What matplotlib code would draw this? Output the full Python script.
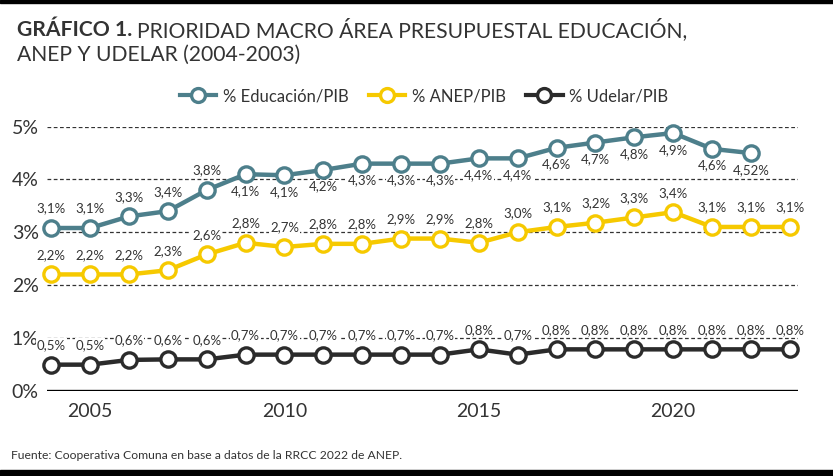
import matplotlib
matplotlib.use('Agg')
import matplotlib.pyplot as plt
from matplotlib.lines import Line2D

plt.rcParams['font.family'] = ['Lato', 'DejaVu Sans']

years = list(range(2004, 2024))
educ = [3.08, 3.08, 3.3, 3.4, 3.8, 4.1, 4.08, 4.18, 4.3, 4.3, 4.3, 4.4, 4.4, 4.6, 4.7, 4.8, 4.88, 4.58, 4.5]
educ_labels = ['3,1%', '3,1%', '3,3%', '3,4%', '3,8%', '4,1%', '4,1%', '4,2%', '4,3%', '4,3%', '4,3%',
               '4,4%', '4,4%', '4,6%', '4,7%', '4,8%', '4,9%', '4,6%', '4,52%']
anep = [2.2, 2.2, 2.2, 2.28, 2.58, 2.8, 2.72, 2.78, 2.78, 2.88, 2.88, 2.8, 3.0, 3.1, 3.18, 3.28, 3.38, 3.1, 3.1, 3.1]
anep_labels = ['2,2%', '2,2%', '2,2%', '2,3%', '2,6%', '2,8%', '2,7%', '2,8%', '2,8%', '2,9%', '2,9%',
               '2,8%', '3,0%', '3,1%', '3,2%', '3,3%', '3,4%', '3,1%', '3,1%', '3,1%']
udelar = [0.49, 0.49, 0.58, 0.59, 0.59, 0.68, 0.68, 0.68, 0.68, 0.68, 0.68, 0.78, 0.68, 0.78, 0.78,
          0.78, 0.78, 0.78, 0.78, 0.78]
udelar_labels = ['0,5%', '0,5%', '0,6%', '0,6%', '0,6%', '0,7%', '0,7%', '0,7%', '0,7%', '0,7%', '0,7%',
                 '0,8%', '0,7%', '0,8%', '0,8%', '0,8%', '0,8%', '0,8%', '0,8%', '0,8%']
yticks = [0, 1, 2, 3, 4, 5]
xticks = [2005, 2010, 2015, 2020]

TEAL = '#4d7f8b'
YELLOW = '#f6c900'
BLACK = '#2b2b2b'
TXT = '#333333'

fig = plt.figure(figsize=(8.33, 4.76), dpi=100)
ax = fig.add_axes([0.0564, 0.1796, 0.9016, 0.5542])

for v in yticks[1:]:
    ax.axhline(v, color='#333333', lw=0.9, dashes=(3, 2), zorder=1)
ax.axhline(0, color='black', lw=2.4, zorder=2)


def draw(vals, labels, color, below_from=None):
    xs = years[:len(vals)]
    ax.plot(xs, vals, color=color, lw=3.2, marker='o', ms=11, mfc='white',
            mec=color, mew=2.4, zorder=4, clip_on=False)
    for i, (x, v, t) in enumerate(zip(xs, vals, labels)):
        below = below_from is not None and i >= below_from
        off = -12 if below else 14
        ax.annotate(t, (x, v), xytext=(0, off), textcoords='offset points',
                    ha='center', va='center', fontsize=9.5, color=TXT, zorder=3,
                    bbox=dict(boxstyle='square,pad=0.06', fc='white', ec='none'))


draw(educ, educ_labels, TEAL, below_from=5)
draw(anep, anep_labels, YELLOW)
draw(udelar, udelar_labels, BLACK)

ax.set_xlim(2003.89, 2023.21)
ax.set_ylim(0, 5)
ax.set_yticks(yticks)
ax.set_yticklabels([f'{v}%' for v in yticks])
ax.set_xticks(xticks)
ax.tick_params(length=0, labelsize=14, colors=TXT, pad=6)
ax.tick_params(axis='x', pad=9)
for s in ax.spines.values():
    s.set_visible(False)

# title: bold part then regular part right after it
r = fig.canvas.get_renderer()
t1 = fig.text(0.021, 0.937, 'GRÁFICO 1.', fontsize=15.2, fontweight='bold', color=TXT, va='center')
w = t1.get_window_extent(r).width / fig.bbox.width
fig.text(0.021 + w + 0.005, 0.937, 'PRIORIDAD MACRO ÁREA PRESUPUESTAL EDUCACIÓN,', fontsize=15.2,
         color=TXT, va='center')
fig.text(0.021, 0.884, 'ANEP Y UDELAR (2004-2003)', fontsize=15.2, color=TXT, va='center')

handles = [Line2D([], [], color=c, lw=3, marker='o', ms=10, mfc='white', mec=c, mew=2.4)
           for c in (TEAL, YELLOW, BLACK)]
fig.legend(handles, ['% Educación/PIB', '% ANEP/PIB', '% Udelar/PIB'], loc='center',
           bbox_to_anchor=(0.509, 0.798), ncol=3, frameon=False, fontsize=12,
           handlelength=2.2, columnspacing=1.2, handletextpad=0.4, labelcolor=TXT)

fig.text(0.013, 0.043, 'Fuente: Cooperativa Comuna en base a datos de la RRCC 2022 de ANEP.',
         fontsize=8.7, color=TXT, va='center')

# black bars top and bottom
fig.add_artist(plt.Rectangle((0, 0.994), 1, 0.006, transform=fig.transFigure, color='black'))
fig.add_artist(plt.Rectangle((0, 0), 1, 0.012, transform=fig.transFigure, color='black'))

fig.savefig('out.png', dpi=100)
